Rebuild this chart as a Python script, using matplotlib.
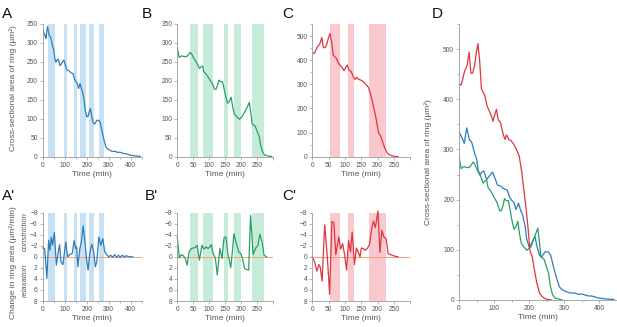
import matplotlib
matplotlib.use('Agg')
import matplotlib.pyplot as plt
import numpy as np

plt.rcParams['font.family'] = ['Liberation Sans', 'DejaVu Sans']

# ring area over time (um^2), one cell per colour
blue_t = [0, 12, 15, 22, 30, 36, 41, 46, 50, 55, 60, 65, 71, 79, 89, 96, 103, 110, 119, 127, 138, 144,
          150, 157, 163, 170, 176, 182, 189, 193, 200, 205, 212, 217, 222, 230, 236, 246, 255, 262, 270,
          279, 287, 296, 308, 317, 331, 341, 350, 360, 370, 379, 389, 398, 408, 422, 443]
blue_area = [335, 318, 312, 343, 319, 315, 302, 289, 282, 259, 249, 255, 257, 240, 249, 255, 242, 229, 227,
             222, 219, 206, 199, 194, 180, 193, 179, 169, 146, 123, 106, 105, 119, 127, 109, 89, 86, 96, 96,
             89, 66, 43, 26, 20, 16, 14, 14, 11, 12, 10, 8, 8, 6, 4, 3, 2, 1]

green_t = [0, 6, 14, 22, 29, 34, 40, 45, 50, 55, 62, 69, 74, 79, 83, 90, 97, 104, 110, 116, 121, 126, 130,
           135, 141, 146, 151, 157, 162, 168, 173, 178, 185, 194, 201, 208, 217, 225, 230, 234, 243, 250,
           256, 261, 267, 274, 284, 295]
green_area = [286, 262, 266, 264, 264, 268, 275, 271, 262, 255, 246, 233, 237, 239, 224, 218, 209, 200, 192,
              178, 178, 189, 202, 198, 198, 180, 160, 141, 145, 157, 132, 113, 106, 99, 104, 114, 128, 143,
              114, 86, 81, 66, 53, 28, 11, 4, 2, 0]

red_t = [0, 6, 11, 16, 23, 29, 34, 39, 44, 49, 54, 59, 64, 69, 74, 80, 87, 93, 97, 101, 107, 112, 118, 126,
         131, 136, 142, 148, 156, 164, 172, 179, 185, 192, 197, 203, 209, 215, 222, 230, 236, 243, 250, 263]
red_area = [431, 428, 442, 456, 467, 494, 452, 452, 465, 490, 511, 477, 421, 414, 407, 387, 376, 366, 356,
            366, 380, 359, 355, 331, 320, 329, 320, 318, 311, 300, 287, 256, 221, 180, 145, 97, 87, 62, 35,
            14, 8, 4, 1.5, 0]

# change in ring area (um^2/min), negative = constriction
blue_rt = [0, 9, 19, 27, 33, 39, 45, 53, 62, 71, 77, 83, 92, 105, 113, 122, 134, 143, 150, 154, 160, 169,
           177, 184, 192, 199, 206, 214, 223, 232, 239, 246, 255, 264, 273, 282, 291, 300, 309, 318, 327,
           336, 344, 353, 362, 371, 380, 395, 410]
blue_rate = [-1.6, -1.5, 3.9, -3.0, -1.2, -3.6, -2.1, -4.4, 1.5, -0.9, -2.2, 0.9, 1.4, -2.7, 0, -0.4, -0.6,
             -3.0, -1.5, -1.8, 1.8, -1.5, -3.0, -5.6, -2.7, 0.3, 2.4, -0.6, -2.3, -0.9, 1.8, 0.9, -3.6,
             -2.1, -3.3, -0.9, -0.4, 0, -0.3, 0.1, -0.4, 0.1, -0.3, 0.1, -0.3, 0, -0.2, 0, 0]

green_rt = [0, 6, 12, 19, 25, 31, 37, 44, 50, 56, 62, 69, 77, 83, 90, 96, 102, 106, 112, 119, 125, 129, 133,
            140, 146, 152, 158, 167, 173, 177, 183, 192, 198, 204, 210, 217, 223, 229, 237, 244, 252, 258,
            265, 271, 279]
green_rate = [-3.6, 0.2, -0.4, -0.2, 0.3, 1.5, -0.9, -1.5, -1.6, -1.7, -2.1, 0.6, -2.1, -1.4, -1.8, -1.5,
              -1.8, -2.2, -0.6, 0.3, 3.3, 0.9, -1.5, 0.3, -3.5, -3.6, -0.6, 2.0, -1.5, -4.2, -2.7, -0.9,
              -0.6, 0.3, 2.1, 2.3, 2.4, -7.5, -0.4, -1.5, -2.1, -4.1, -2.7, -0.3, 0]

red_rt = [0, 7, 14, 20, 24, 30, 38, 46, 53, 60, 66, 72, 81, 87, 93, 99, 105, 111, 117, 122, 129, 135, 140,
          146, 150, 156, 162, 168, 175, 181, 187, 193, 201, 207, 213, 219, 226, 232, 240, 248, 262]
red_rate = [0, 0.9, 2.6, 1.4, 1.8, 4.4, -5.8, 0, 6.8, -6.4, -6.2, -0.4, -3.6, -1.4, -2.4, -0.3, 2.4, -3.0,
            -0.9, -4.5, 1.4, -1.6, -0.9, 0, -1.6, -1.5, -1.2, -1.5, -2.2, -4.8, -6.5, -5.3, -8.3, -0.8,
            -4.8, -3.6, -3.3, -0.6, -0.4, -0.2, 0]

# shaded constriction periods (min)
blue_spans = [(24, 58), (95, 110), (140, 158), (171, 197), (212, 233), (255, 278)]
green_spans = [(40, 65), (79, 110), (146, 158), (177, 198), (232, 270)]
red_spans = [(54, 85), (108, 128), (173, 227)]

BLUE, GREEN, RED = '#2d7dbd', '#27a067', '#e2343f'
BLUE_BG, GREEN_BG, RED_BG = '#c8e1f2', '#c7ebd9', '#f9c9cd'
GREY = '#555555'
W, H = 617, 327

fig = plt.figure(figsize=(W / 100, H / 100), dpi=100)


def box(left, top, right, bottom):
    return fig.add_axes([left / W, 1 - bottom / H, (right - left) / W, (bottom - top) / H])


def style(ax):
    for s in ['top', 'right']:
        ax.spines[s].set_visible(False)
    for s in ['left', 'bottom']:
        ax.spines[s].set_color('#9a9a9a')
        ax.spines[s].set_linewidth(0.6)
    ax.tick_params(which='both', direction='out', width=0.5, color='#9a9a9a',
                   labelsize=4.8, labelcolor=GREY, pad=1.5)
    ax.tick_params(which='major', length=2)
    ax.tick_params(which='minor', length=1.5)
    ax.set_xlabel('Time (min)', fontsize=6, color=GREY, labelpad=1.5)


def area_panel(ax, t, a, spans, col, bg, xmax, ymax):
    for s0, s1 in spans:
        ax.axvspan(s0, s1, color=bg, lw=0)
    ax.plot(t, a, color=col, lw=0.9)
    ax.set_xlim(0, xmax)
    ax.set_ylim(0, ymax)
    style(ax)


def rate_panel(ax, t, r, spans, col, bg, xmax):
    for s0, s1 in spans:
        ax.axvspan(s0, s1, color=bg, lw=0)
    ax.axhline(0, color='#f4a07c', lw=0.7)
    ax.plot(t, r, color=col, lw=0.9, clip_on=False)
    ax.set_xlim(0, xmax)
    ax.set_ylim(8, -8)
    ax.set_yticks(range(-8, 9, 2))
    style(ax)


# top row
axA = box(42.7, 24, 141.7, 156.7)
area_panel(axA, blue_t, blue_area, blue_spans, BLUE, BLUE_BG, 450, 350)
axA.set_xticks([0, 100, 200, 300, 400])
axA.set_xticks([50, 150, 250, 350, 450], minor=True)
axA.set_yticks(range(0, 351, 50))

axB = box(177.3, 24, 273.3, 156.7)
area_panel(axB, green_t, green_area, green_spans, GREEN, GREEN_BG, 300, 350)
axB.set_xticks(range(0, 301, 50), ['0', '50', '100', '150', '200', '250', ''])
axB.set_yticks(range(0, 351, 50))

axC = box(312.3, 24, 410.3, 156.7)
area_panel(axC, red_t, red_area, red_spans, RED, RED_BG, 300, 550)
axC.set_xticks(range(0, 301, 50), ['0', '50', '100', '150', '200', '250', ''])
axC.set_yticks(range(0, 501, 100))
axC.set_yticks(range(50, 551, 100), minor=True)

# bottom row
axA2 = box(42.7, 212.7, 141.7, 301)
rate_panel(axA2, blue_rt, blue_rate, blue_spans, BLUE, BLUE_BG, 450)
axA2.set_xticks([0, 100, 200, 300, 400])
axA2.set_xticks([50, 150, 250, 350, 450], minor=True)

axB2 = box(177.3, 212.7, 273.3, 301)
rate_panel(axB2, green_rt, green_rate, green_spans, GREEN, GREEN_BG, 300)
axB2.set_xticks(range(0, 301, 50), ['0', '50', '100', '150', '200', '250', ''])

axC2 = box(312.3, 212.7, 410.3, 301)
rate_panel(axC2, red_rt, red_rate, red_spans, RED, RED_BG, 300)
axC2.set_xticks(range(0, 301, 50), ['0', '50', '100', '150', '200', '250', ''])

# panel D: all three together
axD = box(459, 24, 616.5, 300)
axD.plot(blue_t, blue_area, color=BLUE, lw=0.9)
axD.plot(green_t, green_area, color=GREEN, lw=0.9)
axD.plot(red_t, red_area, color=RED, lw=0.9)
axD.set_xlim(0, 450)
axD.set_ylim(0, 550)
axD.set_xticks([0, 100, 200, 300, 400])
axD.set_xticks([50, 150, 250, 350, 450], minor=True)
axD.set_yticks(range(0, 501, 100))
axD.set_yticks(range(50, 551, 100), minor=True)
style(axD)

# y labels
ylab = 'Cross-sectional area of ring (µm²)'
fig.text(13 / W, 1 - 88 / H, ylab, rotation=90, ha='center', va='center', fontsize=6, color=GREY)
fig.text(428 / W, 1 - 162 / H, ylab, rotation=90, ha='center', va='center', fontsize=6, color=GREY)
fig.text(12.7 / W, 1 - 263 / H, 'Change in ring area (µm²/min)', rotation=90, ha='center', va='center',
         fontsize=6, color=GREY)
fig.text(25 / W, 1 - 232 / H, 'constriction', rotation=90, ha='center', va='center', fontsize=5.5,
         color=GREY, style='italic')
fig.text(25 / W, 1 - 280 / H, 'relaxation', rotation=90, ha='center', va='center', fontsize=5.5,
         color=GREY, style='italic')

# panel letters
letters = [('A', 2, 17.5), ('B', 141.5, 17.5), ('C', 282.5, 17.5), ('D', 431.5, 17.5),
           ("A'", 1.5, 200.5), ("B'", 145, 200.5), ("C'", 282.5, 200.5)]
for txt, x, y in letters:
    fig.text(x / W, 1 - y / H, txt, fontsize=11, color='#111111', va='baseline', ha='left')

fig.savefig('out.png', dpi=100)
